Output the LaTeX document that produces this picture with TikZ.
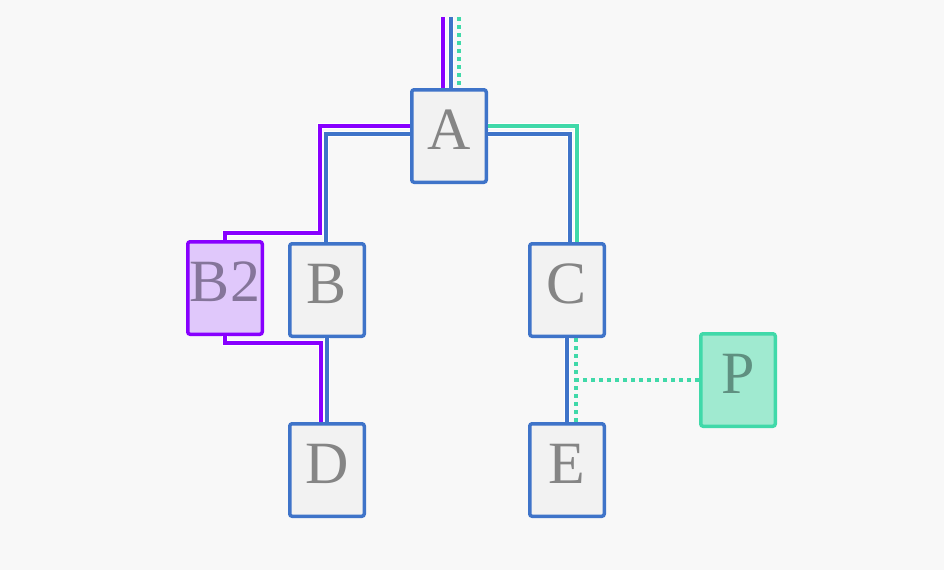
\documentclass[tikz,border=0pt]{standalone}
\usepackage{fontspec}
\setmainfont{Liberation Serif}
\usepackage{tikz}
\definecolor{bgcol}{HTML}{F8F8F8}
\definecolor{lineblue}{HTML}{3F74C9}
\definecolor{linepurple}{HTML}{8800FF}
\definecolor{lineteal}{HTML}{40D9A9}
\definecolor{boxfill}{HTML}{F2F2F2}
\definecolor{purplefill}{HTML}{E0C8FB}
\definecolor{tealfill}{HTML}{A0EAD0}
\definecolor{textgray}{HTML}{858585}
\definecolor{textpurple}{HTML}{85759A}
\definecolor{textteal}{HTML}{5F9080}
\begin{document}
\begin{tikzpicture}[x=0.5pt,y=-0.5pt,line join=miter,
    box/.style={draw=lineblue,fill=boxfill,line width=1.75pt,rounded corners=1.2pt,
        minimum width=37.25pt,minimum height=46.25pt,inner sep=0pt,
        text height=19.2pt,text depth=6pt,text=textgray,font=\fontsize{30}{30}\selectfont},
    route/.style={line width=1.7pt,preaction={draw=white,line width=3.1pt}},
    blueline/.style={route,draw=lineblue},
    purpleline/.style={route,draw=linepurple},
    tealline/.style={route,draw=lineteal},
    tealdot/.style={draw=lineteal,line width=1.7pt,dash pattern=on 2pt off 2pt}]
    \fill[bgcol] (0,0) rectangle (944,570);
    \useasboundingbox (0,0) rectangle (944,570);
    % stations
    \node[box] (A) at (449,136) {A};
    \node[box,draw=linepurple,fill=purplefill,text=textpurple] (B2) at (225,288) {B2};
    \node[box] (B) at (327,290) {B};
    \node[box] (C) at (567,290) {C};
    \node[box] (D) at (327,470) {D};
    \node[box] (E) at (567,470) {E};
    \node[box,draw=lineteal,fill=tealfill,text=textteal] (P) at (738,380) {P};
    % free ends on top
    \coordinate (inP) at (443,17);
    \coordinate (inB) at (451,17);
    \coordinate (inT) at (459,17);
    \coordinate (cs) at ([xshift=4.5pt]C.south);
    \coordinate (en) at ([xshift=4.5pt]E.north);
    \draw[purpleline] (inP) -- (inP |- A.north);
    \draw[blueline] (inB) -- (inB |- A.north);
    \draw[tealdot] (inT) -- (inT |- A.north);
    % left branch
    \draw[purpleline] ([yshift=5pt]A.west) -| ([xshift=-3.5pt,yshift=4.5pt]B.north) -| (B2.north);
    \draw[blueline] ([yshift=1pt]A.west) -| ([xshift=-0.5pt]B.north);
    \draw[purpleline] (B2.south) |- ([xshift=-3pt,yshift=-2.5pt]B.south) -- ([xshift=-3pt]D.north);
    \draw[blueline] (B.south) -- (D.north);
    % right branch
    \draw[tealline] ([yshift=5pt]A.east) -| ([xshift=5pt]C.north);
    \draw[blueline] ([yshift=1pt]A.east) -| ([xshift=1.5pt]C.north);
    \draw[blueline] (C.south) -- (E.north);
    \draw[tealdot] (cs) -- (en);
    \draw[tealdot] (P.west) -- (P.west -| cs);
\end{tikzpicture}
\end{document}
